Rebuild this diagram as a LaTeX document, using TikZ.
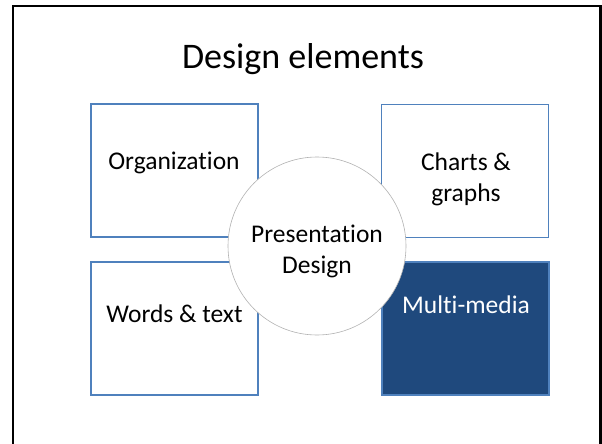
\documentclass[tikz,border=0pt]{standalone}
\usepackage{fontspec}
\setmainfont{Carlito}[Ligatures=NoCommon]
\usepackage{tikz}
\definecolor{boxblue}{HTML}{4F81BD}
\definecolor{darkblue}{HTML}{1F497D}

\begin{document}
\begin{tikzpicture}[x=1pt,y=-1pt]
    \tikzset{quad/.style = {shape=rectangle, draw=boxblue, line width=1.3pt, fill=white, minimum width=167pt, minimum height=133pt, inner sep=0pt}}
    \tikzset{hub/.style = {shape=circle, draw=gray!60, line width=0.6pt, fill=white, minimum size=178pt, inner sep=0pt}}
    \tikzset{txt/.style = {font=\fontsize{25.5}{31}\selectfont, align=center, inner sep=0pt}}

    \useasboundingbox (0,0) rectangle (602,444);

    % frame
    \draw[line width=2.5pt] (13,444) -- (13,6) -- (600.5,6) -- (600.5,444);

    % title
    \node[txt, font=\fontsize{36}{43}\selectfont, anchor=base] (t) at (303,69) {Design elements};

    % quadrants
    \node[quad] (o) at (174.5,170.5) {};
    \node[quad] (c) at (465,171) {};
    \node[quad] (w) at (174.5,328.5) {};
    \node[quad, fill=darkblue] (m) at (465.5,328.5) {};

    % hub
    \node[hub] (p) at (317,246) {};

    % labels (base = last line)
    \node[txt, anchor=base] (ot) at (174,169) {Organization};
    \node[txt, anchor=base] (ct) at (466,201) {Charts \&\\graphs};
    \node[txt, anchor=base] (pt) at (317,273) {Presentation\\Design};
    \node[txt, anchor=base] (wt) at (174.5,322) {Words \& text};
    \node[txt, anchor=base, text=white] (mt) at (466,313) {Multi-media};
\end{tikzpicture}
\end{document}
